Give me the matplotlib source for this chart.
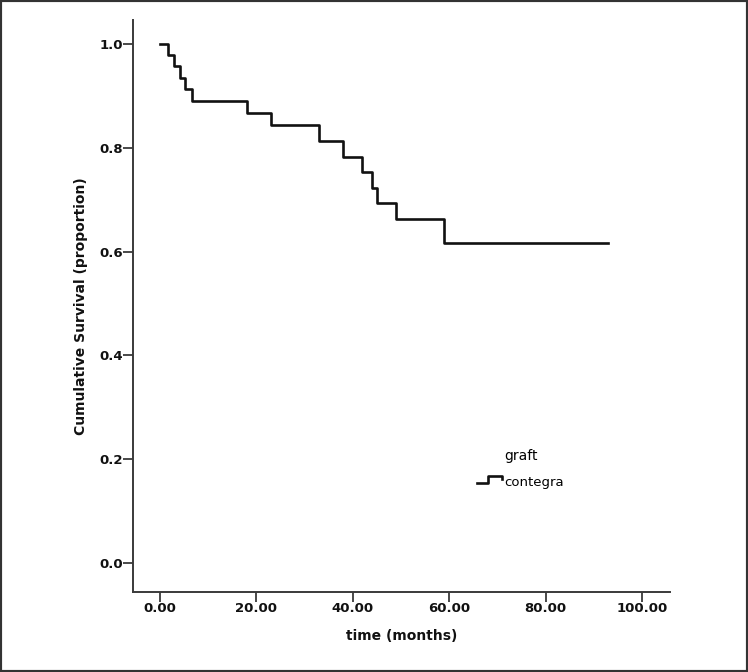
import numpy as np
import matplotlib
matplotlib.use('Agg')
import matplotlib.pyplot as plt
from matplotlib.lines import Line2D
from matplotlib.legend_handler import HandlerBase
from matplotlib.patches import Rectangle

# Kaplan-Meier steps
event_times = [0.0, 1.7, 3.0, 4.2, 5.2, 6.6, 18.0, 23.0, 33.0, 38.0, 42.0, 44.0, 45.0, 49.0, 59.0]
survival = [1.0, 0.978, 0.957, 0.935, 0.913, 0.891, 0.867, 0.843, 0.813, 0.783, 0.753, 0.723, 0.693, 0.662, 0.617]
last_time = 93.0
group_name = 'contegra'
legend_title = 'graft'
x_ticks = [0, 20, 40, 60, 80, 100]
y_ticks = [0.0, 0.2, 0.4, 0.6, 0.8, 1.0]


class StepHandler(HandlerBase):
    # draws the little step glyph SPSS uses in its legend
    def create_artists(self, legend, orig_handle, xdescent, ydescent,
                       width, height, fontsize, trans):
        xs = np.array([0.0, 0.45, 0.45, 1.0, 1.0]) * width - xdescent
        ys = np.array([0.3, 0.3, 1.05, 1.05, 0.75]) * height - ydescent
        ln = Line2D(xs, ys, color=orig_handle.get_color(),
                    lw=orig_handle.get_linewidth())
        ln.set_transform(trans)
        return [ln]


W, H = 748, 672
fig = plt.figure(figsize=(W / 100, H / 100), dpi=100)
ax = fig.add_axes([133 / W, 1 - 592 / H, (670 - 133) / W, (592 - 20) / H])

xs = event_times + [last_time]
ys = survival + [survival[-1]]
line, = ax.step(xs, ys, where='post', color='#111111', lw=1.9)

# x: 0 -> px 160, 100 -> px 642 ; y: 1.0 -> px 44, 0.0 -> px 563
px_per_x = (642 - 160) / 100
ax.set_xlim(-(160 - 133) / px_per_x, (670 - 160) / px_per_x)
px_per_y = (563 - 44) / 1.0
ax.set_ylim(-(592 - 563) / px_per_y, (563 - 20) / px_per_y)

ax.set_xticks(x_ticks)
ax.set_xticklabels([f'{v:.2f}' for v in x_ticks])
ax.set_yticks(y_ticks)
ax.set_yticklabels([f'{v:.1f}' for v in y_ticks])

for s in ['top', 'right']:
    ax.spines[s].set_visible(False)
for s in ['left', 'bottom']:
    ax.spines[s].set_color('#3a3a3a')
    ax.spines[s].set_linewidth(1.4)

ax.tick_params(axis='both', direction='out', length=7, width=1.3, color='#3a3a3a')
ax.tick_params(axis='x', pad=0.5)
ax.tick_params(axis='y', pad=0.5)
for lab in ax.get_xticklabels() + ax.get_yticklabels():
    lab.set_fontweight('bold')
    lab.set_fontsize(9.5)
    lab.set_color('#111111')

ax.set_xlabel('time (months)', fontsize=10, fontweight='bold', labelpad=10, color='#111111')
ax.set_ylabel('Cumulative Survival (proportion)', fontsize=10, fontweight='bold', labelpad=8, color='#111111')

leg = ax.legend([line], [group_name], title=legend_title, frameon=False,
                loc='upper left', bbox_to_anchor=((477 - 133) / 537, (592 - 449) / 572),
                handler_map={Line2D: StepHandler()}, fontsize=9.5, title_fontsize=10,
                handlelength=1.9, handletextpad=0.2, labelspacing=1.0,
                borderpad=0, borderaxespad=0)

# grey frame around the whole picture
fig.patches.append(Rectangle((0, 0), 1, 1, transform=fig.transFigure, fill=False,
                             edgecolor='#333333', lw=3))

fig.savefig('out.png', dpi=100)
